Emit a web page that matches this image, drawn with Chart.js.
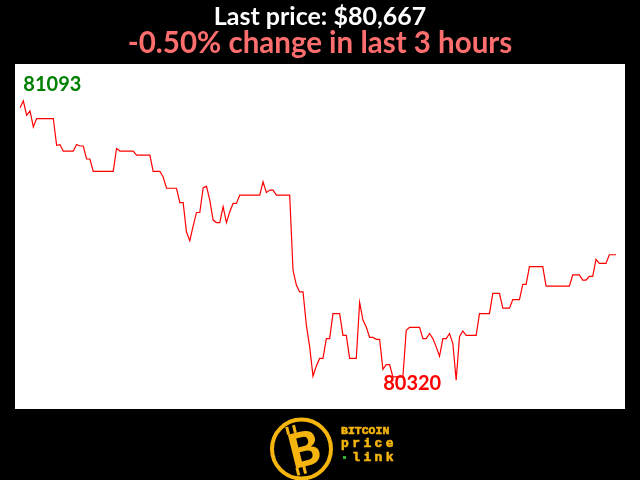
<!DOCTYPE html>
<html lang="en">

<head>
  <meta charset="UTF-8">
  <script src="https://cdn.jsdelivr.net/npm/chart.js"></script>
  <style>
    body { margin: 0; background: #000; }
    .wrap { position: relative; width: 640px; height: 480px; }
    .logo { position: absolute; left: 0; top: 0; }
  </style>
</head>

<body>
  <div class="wrap">
    <canvas id="priceChart" width="640" height="480"></canvas>
    <svg class="logo" width="640" height="480">
      <circle cx="301.5" cy="449" r="29.5" fill="#000" stroke="#f5b50e" stroke-width="4"></circle>
      <rect x="291" y="424" width="3" height="8" fill="#f5b50e" transform="rotate(-14 301 449)"></rect>
      <rect x="298" y="424" width="3" height="8" fill="#f5b50e" transform="rotate(-14 301 449)"></rect>
      <rect x="291" y="466" width="3" height="8" fill="#f5b50e" transform="rotate(-14 301 449)"></rect>
      <rect x="298" y="466" width="3" height="8" fill="#f5b50e" transform="rotate(-14 301 449)"></rect>
      <text x="304" y="467" text-anchor="middle" font-family="Lato" font-weight="900" font-size="48" fill="#f5b50e"
        transform="rotate(-14 301 449)">B</text>
      <g fill="#f5b50e" stroke="#f5b50e" stroke-width="0.6" font-family="Liberation Mono" font-weight="bold">
        <text x="341" y="434" font-size="11.5">BITCOIN</text>
        <text x="341" y="447" font-size="13" letter-spacing="3.4">price</text>
        <text x="352.2" y="461" font-size="13" letter-spacing="3.4">link</text>
      </g>
      <rect x="343" y="456" width="3" height="3" fill="#2fb52f"></rect>
    </svg>
  </div>

  <script>
    // 3 hours of minute closes, USD
    const prices = [
      81073, 81093, 81053, 81065, 81021, 81044, 81044, 81044, 81044, 81044,
      81044, 80970, 80972, 80954, 80954, 80954, 80954, 80972, 80968, 80968,
      80932, 80932, 80898, 80898, 80898, 80898, 80898, 80898, 80898, 80961,
      80954, 80954, 80954, 80954, 80954, 80943, 80943, 80943, 80943, 80943,
      80898, 80898, 80898, 80882, 80851, 80851, 80851, 80851, 80811, 80811,
      80730, 80706, 80746, 80784, 80784, 80852, 80857, 80818, 80763, 80756,
      80756, 80800, 80756, 80786, 80809, 80809, 80832, 80832, 80832, 80832,
      80832, 80832, 80832, 80869, 80839, 80846, 80846, 80832, 80832, 80832,
      80832, 80832, 80624, 80583, 80564, 80564, 80472, 80412, 80331, 80359,
      80380, 80380, 80435, 80435, 80504, 80504, 80504, 80444, 80444, 80380,
      80380, 80380, 80535, 80486, 80467, 80438, 80438, 80433, 80433, 80350,
      80363, 80363, 80329, 80329, 80329, 80329, 80458, 80466, 80466, 80466,
      80466, 80435, 80435, 80449, 80435, 80412, 80386, 80435, 80435, 80449,
      80421, 80320, 80440, 80456, 80444, 80444, 80444, 80444, 80504, 80504,
      80504, 80504, 80560, 80560, 80560, 80519, 80519, 80519, 80543, 80543,
      80543, 80585, 80585, 80634, 80634, 80634, 80634, 80634, 80580, 80580,
      80580, 80580, 80580, 80580, 80580, 80580, 80611, 80611, 80611, 80597,
      80597, 80607, 80607, 80654, 80643, 80643, 80643, 80667, 80667, 80667
    ];
    const minutes = prices.map((p, i) => i);

    const headline = 'Last price: $80,667';
    const changeLine = '-0.50% change in last 3 hours';

    const paper = {
      id: 'paper',
      beforeDraw(chart) {
        const { ctx, chartArea: a } = chart;
        ctx.save();
        ctx.fillStyle = '#000';
        ctx.fillRect(0, 0, chart.width, chart.height);
        ctx.fillStyle = '#fff';
        ctx.fillRect(a.left - 5, a.top, a.right - a.left + 14, a.bottom - a.top);
        ctx.restore();
      },
      afterDraw(chart) {
        const ctx = chart.ctx;
        ctx.save();
        ctx.textAlign = 'center';
        ctx.textBaseline = 'alphabetic';
        ctx.font = 'bold 25px Lato';
        ctx.fillStyle = '#fff';
        ctx.fillText(headline, 320, 25);
        ctx.font = 'bold 29.5px Lato';
        ctx.fillStyle = '#ff6e6e';
        ctx.fillText(changeLine, 320, 53);

        // high / low markers
        const pts = chart.getDatasetMeta(0).data;
        const hi = prices.indexOf(Math.max(...prices));
        const lo = prices.indexOf(Math.min(...prices));
        ctx.textAlign = 'left';
        ctx.font = 'bold 20px Lato';
        ctx.fillStyle = '#008000';
        ctx.fillText(String(prices[hi]), pts[hi].x, pts[hi].y - 10);
        ctx.fillStyle = '#ff0000';
        ctx.fillText(String(prices[lo]), pts[lo].x - 73, pts[lo].y + 10);
        ctx.restore();
      }
    };

    new Chart(document.getElementById('priceChart'), {
      type: 'line',
      data: {
        labels: minutes,
        datasets: [{
          data: prices,
          borderColor: '#ff0000',
          borderWidth: 1.2,
          pointRadius: 0,
          tension: 0,
          fill: false
        }]
      },
      options: {
        responsive: false,
        animation: false,
        layout: { padding: { left: 20, right: 24, top: 64, bottom: 71 } },
        plugins: { legend: { display: false }, tooltip: { enabled: false } },
        scales: {
          x: { display: false },
          y: { display: false, min: 80240, max: 81195 }
        }
      },
      plugins: [paper]
    });
  </script>
</body>

</html>
